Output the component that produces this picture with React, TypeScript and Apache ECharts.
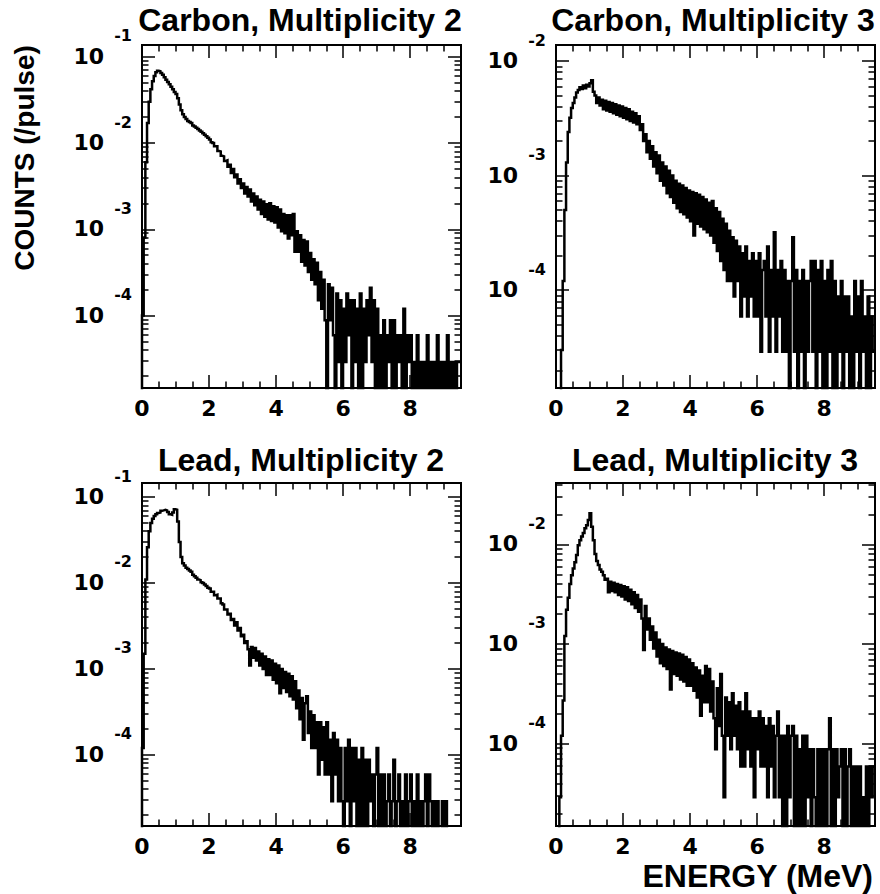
import React, { useEffect, useRef } from 'react';
import * as echarts from 'echarts';

// ---- data (counts per pulse), 0.05 MeV bins starting at 0 MeV ----
const BIN_WIDTH = 0.05;
const ENERGY_MAX = 9.52;

const CARBON_M2 = [
  1.0e-4, 8.0e-4, 6.0e-3, 1.7e-2, 3.0e-2, 4.2e-2, 5.2e-2, 6.0e-2, 6.6e-2, 6.9e-2,
  6.8e-2, 6.5e-2, 6.2e-2, 5.8e-2, 5.4e-2, 5.1e-2, 4.8e-2, 4.5e-2, 4.2e-2, 3.9e-2,
  3.7e-2, 3.3e-2, 2.8e-2, 2.4e-2, 2.15e-2, 2.0e-2, 1.9e-2, 1.8e-2, 1.75e-2, 1.7e-2,
  1.6e-2, 1.55e-2, 1.5e-2, 1.45e-2, 1.4e-2, 1.35e-2, 1.3e-2, 1.25e-2, 1.2e-2, 1.15e-2,
  1.1e-2, 1.02e-2, 1.0e-2, 9.2e-3, 9.2e-3, 8.1e-3, 8.0e-3, 7.1e-3, 7.0e-3, 6.2e-3,
  6.3e-3, 5.3e-3, 5.6e-3, 4.5e-3, 5.0e-3, 4.0e-3, 4.3e-3, 3.4e-3, 3.8e-3, 3.0e-3,
  3.4e-3, 2.6e-3, 3.1e-3, 2.4e-3, 2.9e-3, 2.1e-3, 2.6e-3, 1.9e-3, 2.4e-3, 1.7e-3,
  2.2e-3, 1.5e-3, 2.1e-3, 1.4e-3, 1.95e-3, 1.3e-3, 2.0e-3, 1.25e-3, 1.85e-3, 1.2e-3,
  1.8e-3, 1.05e-3, 1.7e-3, 9.5e-4, 1.5e-3, 9.0e-4, 1.45e-3, 7.8e-4, 1.45e-3, 8.5e-4,
  1.5e-3, 5.5e-4, 9.5e-4, 5.5e-4, 8.5e-4, 4.2e-4, 7.5e-4, 3.8e-4, 7.2e-4, 3.2e-4,
  5.3e-4, 2.6e-4, 4.5e-4, 2.3e-4, 4.1e-4, 1.5e-4, 3.2e-4, 1.2e-4, 2.6e-4, 8.8e-5,
  0, 2.3e-4, 8.8e-5, 2.1e-4, 5.9e-5, 0, 1.8e-4, 2.9e-5, 1.5e-4, 0,
  1.2e-4, 2.9e-5, 1.8e-4, 5.9e-5, 1.5e-4, 0, 1.5e-4, 2.9e-5, 1.2e-4, 0,
  1.8e-4, 0, 1.2e-4, 2.9e-5, 1.5e-4, 5.9e-5, 2.1e-4, 2.9e-5, 1.5e-4, 0,
  1.2e-4, 0, 5.9e-5, 0, 8.8e-5, 0, 5.9e-5, 2.9e-5, 8.8e-5, 0,
  8.8e-5, 0, 5.9e-5, 2.9e-5, 5.9e-5, 0, 1.2e-4, 0, 5.9e-5, 2.9e-5,
  5.9e-5, 0, 2.9e-5, 0, 5.9e-5, 0, 2.9e-5, 0, 2.9e-5, 0,
  5.9e-5, 0, 2.9e-5, 0, 2.9e-5, 0, 5.9e-5, 0, 2.9e-5, 0,
  2.9e-5, 0, 5.9e-5, 0, 2.9e-5, 0, 2.9e-5, 0, 2.9e-5, 2.9e-5,
];

const CARBON_M3 = [
  0, 0, 0, 3.0e-5, 1.2e-4, 5.0e-4, 1.3e-3, 2.4e-3, 3.2e-3, 3.9e-3,
  4.3e-3, 4.8e-3, 5.3e-3, 5.6e-3, 5.9e-3, 5.7e-3, 6.1e-3, 5.8e-3, 6.2e-3, 6.0e-3,
  6.4e-3, 6.8e-3, 5.4e-3, 5.0e-3, 4.3e-3, 4.8e-3, 4.1e-3, 4.6e-3, 3.8e-3, 4.5e-3,
  3.7e-3, 4.4e-3, 3.6e-3, 4.3e-3, 3.5e-3, 4.2e-3, 3.4e-3, 4.1e-3, 3.3e-3, 4.0e-3,
  3.2e-3, 3.9e-3, 3.1e-3, 3.8e-3, 3.0e-3, 3.6e-3, 2.9e-3, 3.5e-3, 2.8e-3, 3.3e-3,
  2.5e-3, 2.8e-3, 2.0e-3, 2.3e-3, 1.6e-3, 2.0e-3, 1.4e-3, 1.8e-3, 1.2e-3, 1.6e-3,
  1.05e-3, 1.5e-3, 9.0e-4, 1.3e-3, 8.2e-4, 1.2e-3, 7.0e-4, 1.1e-3, 6.5e-4, 1.0e-3,
  5.8e-4, 9.0e-4, 5.2e-4, 8.5e-4, 4.8e-4, 8.2e-4, 4.6e-4, 7.8e-4, 4.3e-4, 7.4e-4,
  4.0e-4, 7.2e-4, 3.0e-4, 7.0e-4, 3.8e-4, 6.8e-4, 3.6e-4, 6.5e-4, 3.4e-4, 6.2e-4,
  3.2e-4, 5.8e-4, 3.0e-4, 6.0e-4, 2.6e-4, 5.2e-4, 2.2e-4, 4.8e-4, 1.8e-4, 4.2e-4,
  1.5e-4, 3.8e-4, 1.2e-4, 3.3e-4, 1.2e-4, 2.9e-4, 8.8e-5, 2.7e-4, 1.2e-4, 2.4e-4,
  5.9e-5, 2.1e-4, 8.8e-5, 2.4e-4, 5.9e-5, 1.8e-4, 8.8e-5, 2.1e-4, 5.9e-5, 1.8e-4,
  5.9e-5, 2.1e-4, 2.9e-5, 1.5e-4, 1.8e-4, 5.9e-5, 2.4e-4, 2.9e-5, 1.5e-4, 5.9e-5,
  3.2e-4, 2.9e-5, 1.5e-4, 5.9e-5, 1.8e-4, 2.9e-5, 1.5e-4, 2.9e-5, 1.2e-4, 0,
  1.2e-4, 2.9e-4, 2.9e-5, 1.5e-4, 0, 1.2e-4, 2.9e-5, 1.5e-4, 0, 1.2e-4,
  2.9e-5, 1.2e-4, 1.8e-4, 2.9e-5, 1.8e-4, 0, 1.5e-4, 2.9e-5, 1.8e-4, 0,
  1.2e-4, 0, 1.5e-4, 2.9e-5, 1.8e-4, 0, 1.2e-4, 0, 8.8e-5, 2.9e-5,
  1.2e-4, 0, 8.8e-5, 2.9e-5, 8.8e-5, 0, 5.9e-5, 0, 1.2e-4, 2.9e-5,
  8.8e-5, 0, 1.2e-4, 2.9e-5, 5.9e-5, 0, 8.8e-5, 0, 5.9e-5, 2.9e-5,
];

const LEAD_M2 = [
  1.2e-4, 1.5e-3, 1.1e-2, 2.6e-2, 4.0e-2, 5.0e-2, 5.6e-2, 6.0e-2, 6.3e-2, 6.5e-2,
  6.6e-2, 6.9e-2, 7.0e-2, 7.1e-2, 7.0e-2, 6.7e-2, 6.3e-2, 6.2e-2, 6.6e-2, 7.2e-2,
  7.1e-2, 5.2e-2, 3.0e-2, 2.0e-2, 1.7e-2, 1.6e-2, 1.5e-2, 1.45e-2, 1.4e-2, 1.35e-2,
  1.25e-2, 1.2e-2, 1.15e-2, 1.1e-2, 1.08e-2, 1.02e-2, 1.0e-2, 9.6e-3, 9.2e-3, 8.8e-3,
  8.6e-3, 7.9e-3, 7.9e-3, 7.2e-3, 7.3e-3, 6.6e-3, 6.6e-3, 5.8e-3, 5.6e-3, 4.9e-3,
  4.9e-3, 4.3e-3, 4.4e-3, 3.7e-3, 3.8e-3, 3.2e-3, 3.5e-3, 2.8e-3, 3.0e-3, 2.4e-3,
  2.5e-3, 2.0e-3, 2.1e-3, 1.7e-3, 1.1e-3, 1.8e-3, 1.35e-3, 1.75e-3, 1.25e-3, 1.6e-3,
  1.1e-3, 1.5e-3, 1.0e-3, 1.4e-3, 8.5e-4, 1.3e-3, 8.5e-4, 1.25e-3, 7.5e-4, 1.15e-3,
  6.8e-4, 1.1e-3, 5.2e-4, 1.0e-3, 6.0e-4, 9.2e-4, 5.4e-4, 8.8e-4, 4.8e-4, 8.2e-4,
  4.4e-4, 7.2e-4, 3.5e-4, 5.6e-4, 2.6e-4, 4.6e-4, 1.5e-4, 4.0e-4, 4.8e-4, 1.8e-4,
  3.2e-4, 1.2e-4, 2.9e-4, 1.2e-4, 2.4e-4, 5.9e-5, 2.4e-4, 8.8e-5, 2.1e-4, 5.9e-5,
  2.4e-4, 5.9e-5, 1.5e-4, 2.9e-5, 1.8e-4, 5.9e-5, 1.5e-4, 2.9e-5, 1.2e-4, 2.9e-5,
  0, 1.2e-4, 2.9e-5, 1.5e-4, 0, 1.2e-4, 2.9e-5, 1.2e-4, 0, 8.8e-5,
  0, 1.2e-4, 0, 8.8e-5, 0, 8.8e-5, 2.9e-5, 5.9e-5, 0, 5.9e-5,
  1.2e-4, 0, 5.9e-5, 0, 5.9e-5, 0, 2.9e-5, 5.9e-5, 0, 2.9e-5,
  8.8e-5, 0, 2.9e-5, 5.9e-5, 0, 2.9e-5, 0, 5.9e-5, 0, 2.9e-5,
  5.9e-5, 0, 2.9e-5, 0, 5.9e-5, 0, 2.9e-5, 0, 2.9e-5, 5.9e-5,
  0, 5.9e-5, 2.9e-5, 0, 2.9e-5, 0, 2.9e-5, 0, 0, 2.9e-5,
  0, 2.9e-5, 0, 0, 0, 0, 0, 0, 0, 0,
];

const LEAD_M3 = [
  0, 0, 2.9e-5, 1.2e-4, 2.7e-4, 1.2e-3, 2.2e-3, 2.9e-3, 4.0e-3, 4.9e-3,
  5.7e-3, 6.6e-3, 7.8e-3, 9.8e-3, 1.1e-2, 1.2e-2, 1.3e-2, 1.45e-2, 1.55e-2, 1.75e-2,
  2.05e-2, 1.5e-2, 1.1e-2, 8.0e-3, 6.8e-3, 6.2e-3, 5.6e-3, 5.3e-3, 4.9e-3, 4.4e-3,
  4.5e-3, 3.3e-3, 4.2e-3, 3.4e-3, 4.1e-3, 3.3e-3, 4.0e-3, 3.1e-3, 3.9e-3, 3.0e-3,
  3.8e-3, 2.8e-3, 3.7e-3, 2.7e-3, 3.5e-3, 2.5e-3, 3.3e-3, 2.3e-3, 3.1e-3, 2.1e-3,
  2.8e-3, 1.8e-3, 8.7e-4, 2.4e-3, 1.4e-3, 1.8e-3, 1.1e-3, 1.5e-3, 9.0e-4, 1.3e-3,
  7.5e-4, 1.1e-3, 6.4e-4, 1.0e-3, 6.0e-4, 9.2e-4, 5.6e-4, 8.8e-4, 3.5e-4, 8.5e-4,
  5.0e-4, 8.2e-4, 4.8e-4, 8.0e-4, 4.4e-4, 7.8e-4, 4.2e-4, 7.4e-4, 3.8e-4, 7.0e-4,
  3.8e-4, 6.4e-4, 3.4e-4, 5.8e-4, 2.9e-4, 5.4e-4, 1.9e-4, 4.8e-4, 2.6e-4, 6.0e-4,
  2.6e-4, 5.6e-4, 2.1e-4, 4.2e-4, 1.8e-4, 8.8e-5, 3.6e-4, 1.5e-4, 5.0e-4, 1.2e-4,
  2.9e-5, 2.9e-4, 1.2e-4, 2.6e-4, 8.8e-5, 3.2e-4, 1.2e-4, 2.4e-4, 8.8e-5, 2.6e-4,
  5.9e-5, 2.1e-4, 5.9e-5, 3.2e-4, 8.8e-5, 2.1e-4, 5.9e-5, 1.8e-4, 2.9e-5, 1.8e-4,
  8.8e-5, 2.1e-4, 5.9e-5, 1.8e-4, 5.9e-5, 1.5e-4, 2.9e-5, 1.8e-4, 5.9e-5, 1.5e-4,
  2.9e-5, 1.2e-4, 2.1e-4, 2.9e-5, 1.2e-4, 0, 1.2e-4, 0, 1.5e-4, 2.9e-5,
  1.2e-4, 1.5e-4, 0, 1.2e-4, 0, 8.8e-5, 0, 1.2e-4, 0, 1.2e-4,
  2.9e-5, 8.8e-5, 0, 8.8e-5, 2.9e-5, 0, 8.8e-5, 0, 8.8e-5, 0,
  8.8e-5, 0, 8.8e-5, 1.8e-4, 0, 8.8e-5, 0, 8.8e-5, 2.9e-5, 5.9e-5,
  8.8e-5, 0, 8.8e-5, 0, 5.9e-5, 8.8e-5, 0, 5.9e-5, 0, 5.9e-5,
  0, 5.9e-5, 0, 2.9e-5, 0, 5.9e-5, 0, 5.9e-5, 2.9e-5, 5.9e-5,
];

const PANEL_TITLES = [
  'Carbon, Multiplicity 2',
  'Carbon, Multiplicity 3',
  'Lead, Multiplicity 2',
  'Lead, Multiplicity 3',
];
const PANEL_SERIES = [CARBON_M2, CARBON_M3, LEAD_M2, LEAD_M3];
const Y_MIN = [1.445e-5, 1.4e-5, 1.49e-5, 1.49e-5];
const Y_MAX = [0.1368, 0.0138, 0.1455, 0.0412];

// tick positions (axis values)
const X_MAJOR_TICKS = [2, 4, 6, 8];
const X_MINOR_TICKS = [0.5, 1, 1.5, 2.5, 3, 3.5, 4.5, 5, 5.5, 6.5, 7, 7.5, 8.5, 9, 9.5];
const Y_MAJOR_TICKS = [1e-5, 1e-4, 1e-3, 1e-2, 1e-1];
const Y_MINOR_TICKS = [
  2e-5, 3e-5, 4e-5, 5e-5, 6e-5, 7e-5, 8e-5, 9e-5,
  2e-4, 3e-4, 4e-4, 5e-4, 6e-4, 7e-4, 8e-4, 9e-4,
  2e-3, 3e-3, 4e-3, 5e-3, 6e-3, 7e-3, 8e-3, 9e-3,
  2e-2, 3e-2, 4e-2, 5e-2, 6e-2, 7e-2, 8e-2, 9e-2,
];

const X_TITLE = 'ENERGY (MeV)';
const Y_TITLE = 'COUNTS (/pulse)';

// ---- layout ----
const GRID_POS = [
  { left: 142, top: 45 },
  { left: 556, top: 45 },
  { left: 142, top: 483 },
  { left: 556, top: 483 },
];
const GRID_W = 319;
const GRID_H = 343;
const TITLE_POS = [
  { x: 300, y: 20 },
  { x: 713, y: 20 },
  { x: 301, y: 460 },
  { x: 715, y: 460 },
];
const EMPTY_FLOOR = 1e-8; // empty bins drawn down to the frame
const MAJOR_TICK_PX = 13;
const MINOR_TICK_PX = 6.5;
const TICK_FONT = 'DejaVu Sans';
const TEXT_FONT = 'Liberation Sans';

function histPoints(vals: number[]): [number, number][] {
  const pts: [number, number][] = [[0, EMPTY_FLOOR]];
  vals.forEach((v, i) => pts.push([i * BIN_WIDTH, v > 0 ? v : EMPTY_FLOOR]));
  const last = vals[vals.length - 1];
  pts.push([vals.length * BIN_WIDTH, last > 0 ? last : EMPTY_FLOOR]);
  return pts;
}

// Tick marks on all four sides, as short segments in data space
// (length given as a fraction of the frame size).
function tickSegments(p: number): any[] {
  const segs: any[] = [];
  const lmin = Math.log10(Y_MIN[p]);
  const lmax = Math.log10(Y_MAX[p]);
  const span = lmax - lmin;
  const xTick = (v: number, px: number) => {
    const up = Math.pow(10, lmin + (px / GRID_H) * span);
    const down = Math.pow(10, lmax - (px / GRID_H) * span);
    segs.push({ coords: [[v, Y_MIN[p]], [v, up]] });
    segs.push({ coords: [[v, Y_MAX[p]], [v, down]] });
  };
  const yTick = (v: number, px: number) => {
    if (v <= Y_MIN[p] || v >= Y_MAX[p]) return;
    const dx = (px / GRID_W) * ENERGY_MAX;
    segs.push({ coords: [[0, v], [dx, v]] });
    segs.push({ coords: [[ENERGY_MAX, v], [ENERGY_MAX - dx, v]] });
  };
  X_MAJOR_TICKS.forEach((v) => xTick(v, MAJOR_TICK_PX));
  X_MINOR_TICKS.forEach((v) => xTick(v, MINOR_TICK_PX));
  Y_MAJOR_TICKS.forEach((v) => yTick(v, MAJOR_TICK_PX));
  Y_MINOR_TICKS.forEach((v) => yTick(v, MINOR_TICK_PX));
  return segs;
}

function textGraphics(): any[] {
  const g: any[] = [];
  for (let p = 0; p < 4; p++) {
    g.push({
      type: 'text', x: TITLE_POS[p].x, y: TITLE_POS[p].y, z: 20,
      style: { text: PANEL_TITLES[p], fill: '#000', fontFamily: TEXT_FONT, fontWeight: 'bold', fontSize: 32, align: 'center', verticalAlign: 'middle' },
    });
  }
  g.push({
    type: 'text', x: 24, y: 158, rotation: Math.PI / 2, z: 20,
    style: { text: Y_TITLE, fill: '#000', fontFamily: TEXT_FONT, fontWeight: 'bold', fontSize: 28, align: 'center', verticalAlign: 'middle' },
  });
  g.push({
    type: 'text', x: 873, y: 876, z: 20,
    style: { text: X_TITLE, fill: '#000', fontFamily: TEXT_FONT, fontWeight: 'bold', fontSize: 32, align: 'right', verticalAlign: 'middle' },
  });
  return g;
}

function buildOption(): any {
  const grid: any[] = [];
  const xAxis: any[] = [];
  const yAxis: any[] = [];
  const series: any[] = [];

  for (let p = 0; p < 4; p++) {
    grid.push({
      left: GRID_POS[p].left, top: GRID_POS[p].top, width: GRID_W, height: GRID_H,
      show: true, borderColor: '#000', borderWidth: 2, backgroundColor: 'transparent',
      containLabel: false, outerBoundsMode: 'none',
    });

    xAxis.push({
      type: 'value', gridIndex: p, position: 'bottom', min: 0, max: ENERGY_MAX, interval: 0.5,
      axisLine: { show: false, onZero: false },
      axisTick: { show: false },
      splitLine: { show: false },
      minorTick: { show: false },
      axisLabel: {
        show: true, margin: 9, color: '#000', fontFamily: TICK_FONT, fontWeight: 'bold', fontSize: 22, lineHeight: 22,
        formatter: (v: number) => {
          const h = v / 2;
          return Math.abs(h - Math.round(h)) < 1e-9 ? String(Math.round(v)) : '';
        },
      },
    });

    yAxis.push({
      type: 'log', logBase: 10, gridIndex: p, position: 'left', min: Y_MIN[p], max: Y_MAX[p],
      axisLine: { show: false, onZero: false },
      axisTick: { show: false },
      splitLine: { show: false },
      minorTick: { show: false },
      axisLabel: {
        show: true, margin: 10, color: '#000',
        formatter: (v: number) => {
          const e = Math.log10(v);
          const r = Math.round(e);
          if (Math.abs(e - r) > 1e-6) return '';
          return `{e|${r}}\n{b|10}\n{s| }`;
        },
        rich: {
          e: { fontFamily: TICK_FONT, fontWeight: 'bold', fontSize: 16, lineHeight: 16, color: '#000', align: 'right' },
          b: { fontFamily: TICK_FONT, fontWeight: 'bold', fontSize: 22, lineHeight: 25, color: '#000', align: 'right', padding: [0, 28, 0, 0] },
          s: { fontSize: 10, lineHeight: 17, align: 'right' },
        },
      },
    });

    series.push({
      type: 'line', xAxisIndex: p, yAxisIndex: p, data: histPoints(PANEL_SERIES[p]), step: 'end',
      symbol: 'none', showSymbol: false, clip: true, lineStyle: { color: '#000', width: 2.5, join: 'miter' },
      silent: true, z: 3,
    });
  }

  for (let p = 0; p < 4; p++) {
    series.push({
      type: 'lines', coordinateSystem: 'cartesian2d', xAxisIndex: p, yAxisIndex: p,
      polyline: false, silent: true, clip: false, z: 6, effect: { show: false },
      lineStyle: { color: '#000', width: 1.5, opacity: 1, curveness: 0 },
      data: tickSegments(p),
    });
  }

  return {
    animation: false, backgroundColor: '#fff', grid, xAxis, yAxis, series,
    graphic: { elements: textGraphics() },
  };
}

export default function App() {
  const ref = useRef<HTMLDivElement>(null);
  useEffect(() => {
    if (!ref.current) return;
    const chart = echarts.init(ref.current, null, { renderer: 'svg' });
    chart.setOption(buildOption());
    return () => {
      chart.dispose();
    };
  }, []);
  return (
    <div ref={ref} style={{ position: 'absolute', left: 0, top: 0, width: 880, height: 894 }} />
  );
}
